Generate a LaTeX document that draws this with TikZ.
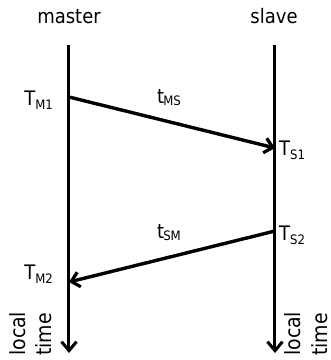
\documentclass[tikz,border=0pt]{standalone}
\usepackage{fontspec}
\setmainfont{DejaVu Sans}[FakeStretch=0.9]
\usepackage{tikz}
\usetikzlibrary{arrows.meta}

\newcommand{\tsub}[2]{#1\raisebox{-4pt}{\fontsize{13}{13}\selectfont #2}}

\begin{document}
\begin{tikzpicture}[x=1pt, y=-1pt, every node/.style={font=\fontsize{20}{24}\selectfont, inner sep=0pt},
		timeline/.style={line width=3pt, -{Straight Barb[length=9pt, width=15pt, line width=3pt]}},
		msg/.style={line width=3.4pt, -{Straight Barb[length=8pt, width=15pt, line width=3.2pt]}},
		axislabel/.style={rotate=90, anchor=base west, font=\fontsize{21}{27}\selectfont}]
		\useasboundingbox (0, 0) rectangle (331, 360);
		\pgfmathsetmacro\xm{69}
		\pgfmathsetmacro\xs{275}
		\coordinate (mtop) at (\xm, 45);
		\coordinate (mbot) at (\xm, 353);
		\coordinate (stop) at (\xs, 45);
		\coordinate (sbot) at (\xs, 353);
		\coordinate (m1) at (\xm, 97);
		\coordinate (s1) at (\xs, 148);
		\coordinate (s2) at (\xs, 231);
		\coordinate (m2) at (\xm, 282);
		\draw[timeline] (mtop) -- (mbot);
		\draw[timeline] (stop) -- (sbot);
		\draw[msg] (m1) -- (s1);
		\draw[msg] (s2) -- (m2);
		\node[anchor=base] (master) at (\xm, 23) {master};
		\node[anchor=base] (slave) at (\xs - 1, 23) {slave};
		\node[anchor=base east] (tm1) at (53, 105) {\tsub{T}{M1}};
		\node[anchor=base east] (tm2) at (53, 279) {\tsub{T}{M2}};
		\node[anchor=base west] (ts1) at (279, 155) {\tsub{T}{S1}};
		\node[anchor=base west] (ts2) at (279, 240) {\tsub{T}{S2}};
		\node[anchor=base west] (tms) at (157, 103) {t\kern-1pt\raisebox{-2.5pt}{\fontsize{13}{13}\selectfont MS}};
		\node[anchor=base west] (tsm) at (157, 238) {t\kern-1pt\raisebox{-2.5pt}{\fontsize{13}{13}\selectfont SM}};
		\node[axislabel] (mlocal) at (25, 356) {local};
		\node[axislabel] (mtime) at (51.5, 356) {time};
		\node[axislabel] (slocal) at (301, 356) {local};
		\node[axislabel] (stime) at (327, 356) {time};
	\end{tikzpicture}
\end{document}
